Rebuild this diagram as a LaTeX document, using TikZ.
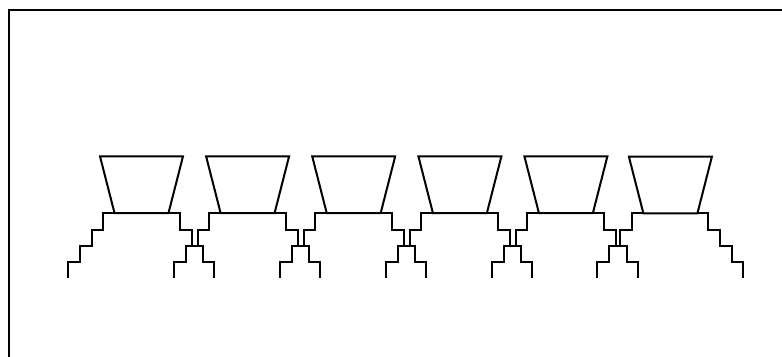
\documentclass[tikz,border=0pt]{standalone}
\tikzset{
  outline/.style={line width=1.5pt,line cap=butt,line join=miter,black},
  cell/.pic={
    % trapezoid body
    \draw[outline] (100,-156.3) -- (183,-156.3) -- (168.5,-213) -- (114.5,-213) -- cycle;
    % stepped legs on both sides
    \draw[outline] (68,-278) |- (79.7,-262) |- (91.5,-246) |- (103,-229.5) |- (114.5,-213);
    \draw[outline] (168.5,-213) -| (179.5,-229.5) -| (191.5,-246) -| (203,-262) -| (214,-278);
  }
}
\begin{document}
\begin{tikzpicture}[x=0.75pt,y=0.75pt]
  \useasboundingbox (0,0) rectangle (782,-357);
  \fill[white] (0,0) rectangle (782,-357);
  % frame open towards the right and bottom edges
  \draw[outline] (8.5,-357) -- (8.5,-9.5) -- (782,-9.5);
  \foreach \dx in {0,106.1,212.2,318.4,424.4}
    \pic at (\dx,0) {cell};
  \pic at (528.9,-0.4) {cell};
\end{tikzpicture}
\end{document}
